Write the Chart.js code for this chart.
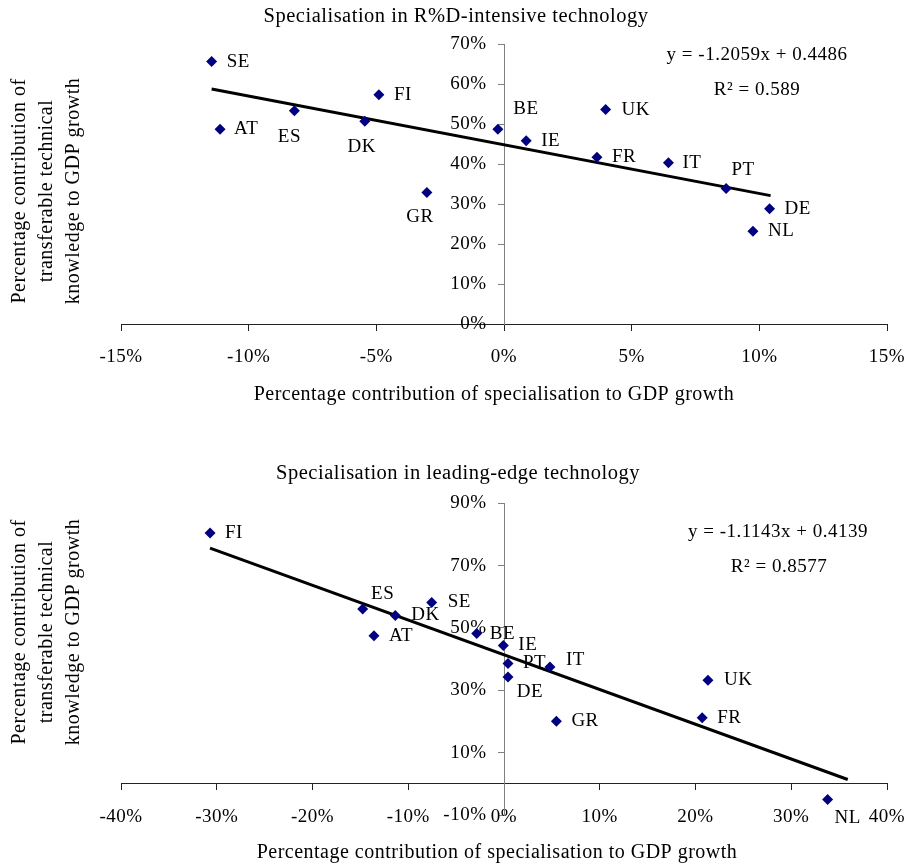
<!DOCTYPE html>
<html>
<head>
<meta charset="utf-8">
<title>Specialisation and transferable technical knowledge</title>
<script src="https://cdn.jsdelivr.net/npm/chart.js@4.4.1/dist/chart.umd.min.js"></script>
<style>
  html, body { margin: 0; padding: 0; background: #fff; }
  canvas { display: block; }
</style>
</head>
<body>
<canvas id="rdChart" width="907" height="435"></canvas>
<canvas id="leChart" width="907" height="431"></canvas>
<script>
// R&D-intensive technology (values in %)
const rdCountries = ['SE', 'AT', 'ES', 'DK', 'FI', 'GR', 'BE', 'IE', 'UK', 'FR', 'IT', 'PT', 'DE', 'NL'];
const rdSpecialisation = [-11.45, -11.12, -8.21, -5.45, -4.90, -3.02, -0.24, 0.87, 3.98, 3.64, 6.44, 8.70, 10.40, 9.75];
const rdKnowledge = [65.6, 48.7, 53.3, 50.7, 57.3, 32.9, 48.7, 45.8, 53.6, 41.7, 40.3, 33.9, 28.8, 23.2];
const rdTrendX = [-11.45, 10.44];
const rdTrendY = [58.75, 32.1];

// leading-edge technology (values in %)
const leCountries = ['FI', 'ES', 'DK', 'AT', 'SE', 'BE', 'IE', 'PT', 'DE', 'IT', 'UK', 'FR', 'GR', 'NL'];
const leSpecialisation = [-30.7, -14.76, -11.35, -13.58, -7.55, -2.85, -0.07, 0.42, 0.42, 4.80, 21.3, 20.7, 5.47, 33.8];
const leKnowledge = [80.5, 56.1, 54.0, 47.5, 58.2, 48.2, 44.4, 38.6, 34.3, 37.5, 33.2, 21.2, 20.1, -5.0];
const leTrendX = [-30.7, 35.9];
const leTrendY = [75.6, 1.4];

// where each country label sits next to its marker: [dx, dy, align]
const rdPlace = [
  [15, 0, 'left'], [14, 0, 'left'], [-5, 26, 'center'], [-3, 26, 'center'], [15, 0, 'left'],
  [-7, 25, 'center'], [28, -20, 'center'], [15, 0, 'left'], [16, 0, 'left'], [15, 0, 'left'],
  [14, 0, 'left'], [17, -18, 'center'], [15, 0, 'left'], [15, 0, 'left']
];
const lePlace = [
  [15, 0, 'left'], [20, -15, 'center'], [16, 0, 'left'], [15, 0, 'left'], [16, 0, 'left'],
  [13, 0, 'left'], [15, 0, 'left'], [15, 0, 'left'], [22, 15, 'center'], [16, -7, 'left'],
  [16, 0, 'left'], [15, 0, 'left'], [15, 0, 'left'], [20, 19, 'center']
];

const serif = "'Liberation Serif', 'Times New Roman', serif";
const yTitleLines = ['Percentage contribution of', 'transferable technical', 'knowledge to GDP growth'];
const xTitle = 'Percentage contribution of specialisation to GDP growth';

Chart.defaults.font.family = serif;
Chart.defaults.color = '#000';

const spacing = {
  id: 'spacing',
  beforeUpdate(chart) { chart.ctx.letterSpacing = '0.5px'; },
  beforeDraw(chart) { chart.ctx.letterSpacing = '0.5px'; }
};

// y labels of an axis placed at x = 0 sit on the axis line; move them left
const yLabelGap = {
  id: 'yLabelGap',
  beforeDraw(chart) {
    const items = chart.scales.y.getLabelItems(chart.chartArea);
    if (!items._moved) {
      items.forEach(it => { it.options.translation[0] -= 17.5; });
      items._moved = true;
    }
  }
};

const pointLabels = {
  id: 'pointLabels',
  afterDatasetsDraw(chart, args, opts) {
    const ctx = chart.ctx;
    const meta = chart.getDatasetMeta(0);
    ctx.save();
    ctx.font = '19px ' + serif;
    ctx.fillStyle = '#000';
    ctx.textBaseline = 'middle';
    meta.data.forEach((pt, i) => {
      const p = opts.place[i];
      ctx.textAlign = p[2];
      ctx.fillText(opts.names[i], pt.x + p[0], pt.y + p[1]);
    });
    ctx.restore();
  }
};

const extraText = {
  id: 'extraText',
  afterDraw(chart, args, opts) {
    const ctx = chart.ctx;
    ctx.save();
    ctx.fillStyle = '#000';
    ctx.textBaseline = 'middle';
    ctx.textAlign = 'center';
    ctx.font = '20.5px ' + serif;
    ctx.fillText(opts.title, opts.titleAt[0], opts.titleAt[1]);
    ctx.font = '19px ' + serif;
    opts.equation.forEach(e => ctx.fillText(e[0], e[1], e[2]));
    ctx.font = '20px ' + serif;
    ctx.fillText(xTitle, opts.xTitleAt[0], opts.xTitleAt[1]);
    ctx.translate(opts.yTitleAt[0], opts.yTitleAt[1]);
    ctx.rotate(-Math.PI / 2);
    yTitleLines.forEach((line, i) => ctx.fillText(line, 0, i * 27));
    ctx.restore();
  }
};

function makeChart(id, cfg) {
  const points = cfg.xs.map((x, i) => ({ x: x, y: cfg.ys[i] }));
  const trend = cfg.tx.map((x, i) => ({ x: x, y: cfg.ty[i] }));
  return new Chart(document.getElementById(id), {
    type: 'scatter',
    data: {
      datasets: [{
        data: points,
        pointStyle: 'rectRot',
        pointRadius: 5.5,
        backgroundColor: '#000080',
        borderColor: '#000080',
        borderWidth: 0
      }, {
        type: 'line',
        data: trend,
        borderColor: '#000',
        borderWidth: 3,
        pointRadius: 0,
        fill: false
      }]
    },
    plugins: [spacing, yLabelGap, pointLabels, extraText],
    options: {
      responsive: false,
      animation: false,
      events: [],
      layout: { padding: cfg.padding },
      plugins: {
        legend: { display: false },
        tooltip: { enabled: false },
        title: { display: false },
        pointLabels: { names: cfg.names, place: cfg.place },
        extraText: {
          title: cfg.title, titleAt: cfg.titleAt, equation: cfg.equation,
          xTitleAt: cfg.xTitleAt, yTitleAt: cfg.yTitleAt
        }
      },
      scales: {
        x: {
          type: 'linear',
          position: { y: 0 },
          min: cfg.xRange[0], max: cfg.xRange[1],
          afterFit(scale) { scale.height = 0; scale.paddingLeft = 0; scale.paddingRight = 0; },
          grid: { drawOnChartArea: false, drawTicks: true, tickLength: 6, color: '#222' },
          border: { color: '#222', width: 1 },
          ticks: {
            stepSize: cfg.xRange[2], autoSkip: false, maxRotation: 0,
            padding: 16, font: { size: 19 },
            callback: v => v + '%'
          }
        },
        y: {
          type: 'linear',
          position: { x: 0 },
          min: cfg.yRange[0], max: cfg.yRange[1],
          afterFit(scale) { scale.width = 0; scale.paddingTop = 0; scale.paddingBottom = 0; },
          grid: { drawOnChartArea: false, drawTicks: true, tickLength: 6, color: '#808080' },
          border: { color: '#808080', width: 1 },
          ticks: {
            stepSize: cfg.yRange[2], autoSkip: false,
            font: { size: 19 },
            callback: v => v + '%'
          }
        }
      }
    }
  });
}

makeChart('rdChart', {
  title: 'Specialisation in R%D-intensive technology',
  titleAt: [456, 17],
  names: rdCountries, place: rdPlace,
  xs: rdSpecialisation, ys: rdKnowledge, tx: rdTrendX, ty: rdTrendY,
  xRange: [-15, 15, 5], yRange: [0, 70, 10],
  padding: { left: 121, right: 20, top: 44, bottom: 111 },
  equation: [['y = -1.2059x + 0.4486', 757, 55], ['R\u00b2 = 0.589', 757, 90]],
  xTitleAt: [494, 395],
  yTitleAt: [20, 191]
});

makeChart('leChart', {
  title: 'Specialisation in leading-edge technology',
  titleAt: [458, 39],
  names: leCountries, place: lePlace,
  xs: leSpecialisation, ys: leKnowledge, tx: leTrendX, ty: leTrendY,
  xRange: [-40, 40, 10], yRange: [-10, 90, 20],
  padding: { left: 121, right: 20, top: 68.3, bottom: 51 },
  equation: [['y = -1.1143x + 0.4139', 778, 97], ['R\u00b2 = 0.8577', 779, 132]],
  xTitleAt: [497, 418],
  yTitleAt: [20, 197]
});
</script>
</body>
</html>
